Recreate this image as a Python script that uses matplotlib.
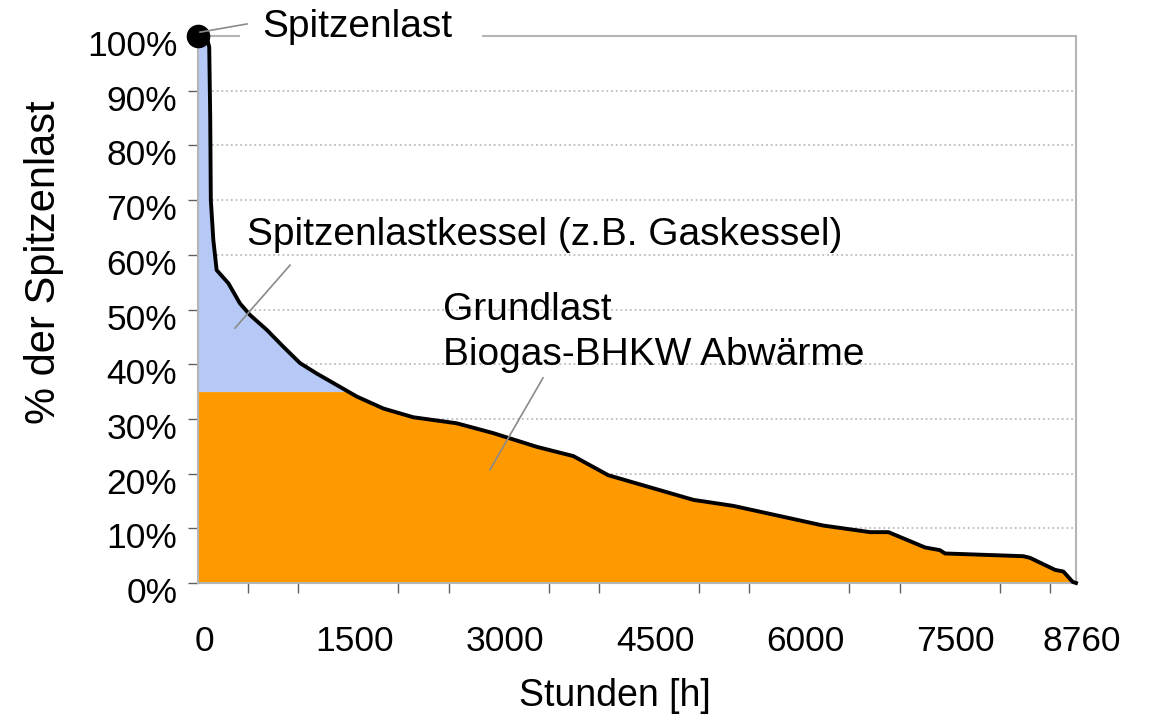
import numpy as np
import matplotlib
matplotlib.use("Agg")
import matplotlib.pyplot as plt
import matplotlib.ticker as ticker
from matplotlib.transforms import ScaledTranslation
from matplotlib.patches import Rectangle

plt.rcParams["font.family"] = ["Liberation Sans", "DejaVu Sans"]

# annual load duration curve of the heat demand (hours sorted by load)
hours = [0, 90, 112, 122, 128, 153, 186, 303, 419, 519, 685, 851, 1018, 1184,
         1384, 1583, 1849, 2148, 2581, 2946, 3379, 3745, 4094, 4942, 5341,
         6239, 6705, 6888, 7254, 7403, 7453, 8234, 8301, 8517, 8551, 8634,
         8727, 8760]
load_pct = [100, 99.5, 98.0, 85.0, 70.0, 62.7, 57.2, 54.8, 51.1, 49.0, 46.3,
            43.2, 40.2, 38.3, 36.2, 34.1, 31.9, 30.3, 29.2, 27.4, 24.9, 23.2,
            19.7, 15.2, 14.1, 10.5, 9.3, 9.3, 6.5, 6.0, 5.4, 4.9, 4.6, 2.7,
            2.4, 2.1, 0.2, 0.0]

# share covered by the CHP waste heat (base load)
base_load = 35.0

x_ticks = [0, 1500, 3000, 4500, 6000, 7500, 8760]
y_ticks = list(range(0, 101, 10))

fig = plt.figure(figsize=(11.6, 7.15), dpi=100)
ax = fig.add_axes([198 / 1160, 1 - 583 / 715, 878 / 1160, 547 / 715])
ax.set_xlim(0, 8760)
ax.set_ylim(0, 100)

h = np.array(hours, dtype=float)
p = np.array(load_pct, dtype=float)

# dense copy so the split at the base load level is clean
hd = np.linspace(0, 8760, 4000)
pd_ = np.interp(hd, h, p)

ax.fill_between(hd, 0, np.minimum(pd_, base_load), color="#ff9900",
                linewidth=0, zorder=2)
ax.fill_between(hd, base_load, pd_, where=pd_ >= base_load, interpolate=True,
                color="#b6c8f6", linewidth=0, zorder=2)
ax.plot(h, p, color="black", linewidth=2.8, solid_joinstyle="round",
        zorder=4, clip_on=False)
ax.plot([0], [100], "o", color="black", markersize=16, zorder=6, clip_on=False)

# frame and grid
for side in ["left", "right", "top", "bottom"]:
    ax.spines[side].set_color("#b5b5b5")
    ax.spines[side].set_linewidth(1.5)
ax.yaxis.grid(True, color="#bdbdbd", linestyle=(0, (1, 1.6)), linewidth=1.3,
              zorder=1)
ax.set_axisbelow(True)

ax.set_yticks(y_ticks)
ax.yaxis.set_major_formatter(ticker.FuncFormatter(lambda v, _: f"{v:.0f}%"))
ax.tick_params(axis="y", length=7, width=1, color="#606060", pad=8,
               labelsize=25.5)

ax.set_xticks(x_ticks)
ax.set_xticklabels([str(t) for t in x_ticks])
ax.set_xticks(np.arange(0, 8760, 500), minor=True)
ax.tick_params(axis="x", which="major", length=0, pad=30, labelsize=25.5)
ax.tick_params(axis="x", which="minor", length=7, width=1, color="#606060")

for lab in ax.get_yticklabels():
    lab.set_transform(lab.get_transform()
                      + ScaledTranslation(0, -0.07, fig.dpi_scale_trans))
for lab in ax.get_xticklabels():
    lab.set_transform(lab.get_transform()
                      + ScaledTranslation(0.06, 0, fig.dpi_scale_trans))

ax.set_xlabel("Stunden [h]", fontsize=27)
ax.xaxis.set_label_coords(0.475, -0.174)
ax.set_ylabel("% der Spitzenlast", fontsize=30)
ax.yaxis.set_label_coords(-0.153, 0.587)

# white box behind the peak label hides that part of the frame
ax.add_patch(Rectangle((0.048, 0.985), 0.2755, 0.06, transform=ax.transAxes,
                       facecolor="white", edgecolor="none", zorder=5,
                       clip_on=False))

lead = dict(color="#8a8a8a", linewidth=1.2, zorder=7, clip_on=False)

ax.text(0.0729, 0.998, "Spitzenlast", transform=ax.transAxes, fontsize=28,
        va="baseline", ha="left", zorder=7)
ax.plot([489, 20], [102.2, 100.7], **lead)

ax.text(0.0561, 0.618, "Spitzenlastkessel (z.B. Gaskessel)",
        transform=ax.transAxes, fontsize=28, va="baseline", ha="left",
        zorder=7)
ax.plot([918, 369], [58.1, 46.6], **lead)

ax.text(0.2790, 0.4808, "Grundlast", transform=ax.transAxes, fontsize=28,
        va="baseline", ha="left", zorder=7)
ax.text(0.2790, 0.3985, "Biogas-BHKW Abwärme", transform=ax.transAxes,
        fontsize=28, va="baseline", ha="left", zorder=7)
ax.plot([3442, 2913], [37.5, 20.7], **lead)

fig.savefig("out.png", dpi=100)
